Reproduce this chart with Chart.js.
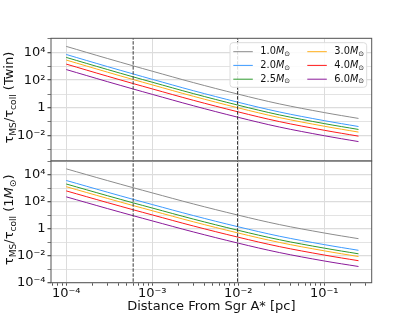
<!DOCTYPE html>
<html><head><meta charset="utf-8">
<script src="https://cdn.jsdelivr.net/npm/chart.js@4.4.0/dist/chart.umd.min.js"></script>
<style>
html,body{margin:0;padding:0;background:#fff;}
#wrap{position:relative;width:413px;height:319px;background:#fff;}
canvas{position:absolute;left:0;top:0;}
</style></head><body>
<div id="wrap"><canvas id="cTop" width="413" height="319"></canvas><canvas id="cBot" width="413" height="319"></canvas></div>
<script>
// ---- data ----
const distances = [1e-4, 3e-4, 6e-4, 1e-3, 3e-3, 1e-2, 3e-2, 0.1, 0.25];
const massLabels = ['1.0', '2.0', '2.5', '3.0', '4.0', '6.0'];
const colors = ['#8c8c8c', '#3d9bff', '#2e9a2e', '#ffae1a', '#ff1a1a', '#8b1a9a'];

// top panel: tau_MS / tau_coll (Twin)
const twin10 = [26300, 3597, 1059, 438.5, 67.0, 9.86, 1.995, 0.474, 0.180];
const twin20 = [6918, 946, 279, 115, 17.6, 2.59, 0.525, 0.125, 0.0474];
const twin25 = [4266, 583, 172, 71.1, 10.9, 1.60, 0.324, 0.0769, 0.0292];
const twin30 = [2754, 377, 111, 45.9, 7.01, 1.03, 0.209, 0.0497, 0.0189];
const twin40 = [1413, 193, 56.9, 23.6, 3.60, 0.530, 0.107, 0.0255, 0.00968];
const twin60 = [575, 78.7, 23.2, 9.59, 1.47, 0.216, 0.0437, 0.0104, 0.00394];

// bottom panel: tau_MS / tau_coll (1 Msun)
const one10 = [26300, 3597, 1059, 438.5, 67.0, 9.86, 1.995, 0.474, 0.180];
const one20 = [3631, 497, 146, 60.5, 9.25, 1.36, 0.275, 0.0655, 0.0249];
const one25 = [1995, 273, 80.4, 33.3, 5.08, 0.748, 0.151, 0.0360, 0.0137];
const one30 = [1259, 172, 50.7, 21.0, 3.21, 0.472, 0.0955, 0.0227, 0.00863];
const one40 = [617, 84.3, 24.8, 10.3, 1.57, 0.231, 0.0468, 0.0111, 0.00423];
const one60 = [224, 30.6, 9.02, 3.73, 0.570, 0.0839, 0.0170, 0.00404, 0.00158];

const dashedX = [6e-4, 0.0098];
const xMajorTicks = [1e-4, 1e-3, 1e-2, 1e-1];
const yDecadeTicks = [1e-4, 1e-3, 1e-2, 1e-1, 1, 1e1, 1e2, 1e3, 1e4, 1e5];
const xLimits = [6.65e-5, 0.356];
const yLimitsTop = [1.6e-4, 1e5];
const yLimitsBot = [1e-4, 1e5];
const xTitle = 'Distance From Sgr A* [pc]';

// ---- helpers ----
const FONT = 'DejaVu Sans';
const AX = 13;      // axis text size
const LG = 9.8;     // legend text size
const SUP = {'-':'⁻','0':'⁰','1':'¹','2':'²','3':'³','4':'⁴','5':'⁵','6':'⁶','7':'⁷','8':'⁸','9':'⁹'};
function powLabel(e){ if (e === 0) return '1'; return '10' + String(e).split('').map(c=>SUP[c]).join(''); }

function xMinorTicks(){
  const t = [];
  for (let e = -5; e <= 0; e++) for (let m = 1; m <= 9; m++) {
    const v = m * Math.pow(10, e);
    if (v >= xLimits[0] && v <= xLimits[1]) t.push(v);
  }
  return t;
}

function drawRich(ctx, segs, x, y, rot){
  ctx.save();
  ctx.translate(x, y);
  ctx.rotate(rot);
  let w = 0;
  segs.forEach(s => { ctx.font = (s.it ? 'italic ' : '') + s.size + 'px "' + FONT + '"'; s.w = ctx.measureText(s.t).width; w += s.w; });
  let cx = -w / 2;
  ctx.fillStyle = '#111';
  ctx.textBaseline = 'middle';
  ctx.textAlign = 'left';
  segs.forEach(s => { ctx.font = (s.it ? 'italic ' : '') + s.size + 'px "' + FONT + '"'; ctx.fillText(s.t, cx, s.dy || 0); cx += s.w; });
  ctx.restore();
}

function makeDatasets(series){
  const ds = series.map((vals, i) => ({
    label: massLabels[i],
    data: distances.map((d, k) => ({x: d, y: vals[k]})),
    borderColor: colors[i],
    backgroundColor: colors[i],
    borderWidth: 1,
    pointRadius: 0,
    tension: 0.35,
    fill: false,
    order: 6 - i
  }));
  dashedX.forEach(xv => ds.push({
    label: 'dash',
    data: [{x: xv, y: 1e-8}, {x: xv, y: 1e8}],
    borderColor: '#3a3a3a',
    borderWidth: 1,
    borderDash: [3.5, 1.5],
    pointRadius: 0,
    order: -1
  }));
  return ds;
}

const framePlugin = {
  id: 'frame',
  afterDatasetsDraw(chart, args, opts){
    const {ctx, chartArea: a} = chart;
    ctx.save();
    ctx.strokeStyle = '#555';
    ctx.lineWidth = 1;
    ctx.strokeRect(a.left, a.top, a.right - a.left, a.bottom - a.top);
    ctx.restore();
    const cy = (a.top + a.bottom) / 2;
    drawRich(ctx, opts.title, 10, cy - 2, -Math.PI / 2);
    if (opts.legend) drawLegend(chart);
  }
};

function drawLegend(chart){
  const {ctx, chartArea: a} = chart;
  const bx = a.right - 141.7, by = a.top + 4.4, bw = 136.7, bh = 44.6, r = 3;
  ctx.save();
  ctx.beginPath();
  ctx.moveTo(bx + r, by);
  ctx.arcTo(bx + bw, by, bx + bw, by + bh, r);
  ctx.arcTo(bx + bw, by + bh, bx, by + bh, r);
  ctx.arcTo(bx, by + bh, bx, by, r);
  ctx.arcTo(bx, by, bx + bw, by, r);
  ctx.closePath();
  ctx.fillStyle = 'rgba(255,255,255,0.85)';
  ctx.fill();
  ctx.strokeStyle = '#dcdcdc';
  ctx.lineWidth = 1;
  ctx.stroke();
  const rows = [by + 9, by + 22.7, by + 36.5];
  const cols = [bx + 3.3, bx + 77.3];
  massLabels.forEach((lab, i) => {
    const col = Math.floor(i / 3), row = i % 3;
    const lx = cols[col], ly = rows[row];
    ctx.strokeStyle = colors[i];
    ctx.lineWidth = 1;
    ctx.beginPath(); ctx.moveTo(lx, ly); ctx.lineTo(lx + 19.5, ly); ctx.stroke();
    const segs = [{t: lab, size: LG}, {t: 'M', size: LG, it: true}, {t: '⊙', size: LG * 0.7, dy: 2.5}];
    let tx = lx + 27;
    ctx.fillStyle = '#111';
    ctx.textBaseline = 'middle';
    segs.forEach(s => {
      ctx.font = (s.it ? 'italic ' : '') + s.size + 'px "' + FONT + '"';
      ctx.fillText(s.t, tx, ly + (s.dy || 0));
      tx += ctx.measureText(s.t).width;
    });
  });
  ctx.restore();
}

function makeOptions(isTop){
  const yl = isTop ? yLimitsTop : yLimitsBot;
  const sub = AX * 0.7;
  return {
    responsive: false,
    animation: false,
    devicePixelRatio: 1,
    layout: {padding: isTop ? {left: 0, top: 38.3, right: 41.3, bottom: 158} : {left: 0, top: 161, right: 41.3, bottom: 0}},
    plugins: {
      legend: {display: false},
      tooltip: {enabled: false},
      frame: {
        legend: isTop,
        title: isTop
          ? [{t: 'τ', size: AX}, {t: 'MS', size: sub, dy: 3.3}, {t: '/τ', size: AX}, {t: 'coll', size: sub, dy: 3.3}, {t: ' (Twin)', size: AX}]
          : [{t: 'τ', size: AX}, {t: 'MS', size: sub, dy: 3.3}, {t: '/τ', size: AX}, {t: 'coll', size: sub, dy: 3.3}, {t: ' (1', size: AX}, {t: 'M', size: AX, it: true}, {t: '⊙', size: sub, dy: 3.3}, {t: ')', size: AX}]
      }
    },
    scales: {
      x: {
        type: 'logarithmic',
        min: xLimits[0], max: xLimits[1],
        afterBuildTicks: s => { s.ticks = xMinorTicks().map(v => ({value: v})); },
        afterFit: s => { s.height = isTop ? 0 : 36.3; },
        border: {display: false},
        grid: {
          color: c => (c.tick && xMajorTicks.some(m => Math.abs(m - c.tick.value) / m < 1e-6)) ? '#dcdcdc' : 'rgba(0,0,0,0)',
          lineWidth: 1,
          drawTicks: !isTop,
          tickLength: 3,
          tickColor: '#555'
        },
        ticks: {
          display: !isTop,
          autoSkip: false, maxRotation: 0, minRotation: 0,
          padding: 0,
          color: '#111',
          font: {family: FONT, size: AX},
          callback: v => xMajorTicks.some(m => Math.abs(m - v) / m < 1e-6) ? powLabel(Math.round(Math.log10(v))) : ''
        },
        title: {display: !isTop, text: xTitle, color: '#111', font: {family: FONT, size: AX}, padding: {top: 0, bottom: 5}}
      },
      y: {
        type: 'logarithmic',
        min: yl[0], max: yl[1],
        afterBuildTicks: s => { s.ticks = yDecadeTicks.filter(v => v >= s.min * 0.999 && v <= s.max * 1.001).map(v => ({value: v})); },
        afterFit: s => { s.width = 51; },
        border: {display: false},
        grid: {
          color: '#dcdcdc',
          lineWidth: c => (c.tick && Math.round(Math.log10(c.tick.value)) % 2 === 0) ? 1.3 : 0.8,
          drawTicks: true, tickLength: 3.5, tickColor: '#555'
        },
        ticks: {
          autoSkip: false, padding: 2,
          color: '#111',
          font: {family: FONT, size: AX},
          callback: v => { const e = Math.round(Math.log10(v)); return e % 2 === 0 ? powLabel(e) : ''; }
        }
      }
    }
  };
}

new Chart(document.getElementById('cTop'), {
  type: 'line',
  data: {datasets: makeDatasets([twin10, twin20, twin25, twin30, twin40, twin60])},
  options: makeOptions(true),
  plugins: [framePlugin]
});
new Chart(document.getElementById('cBot'), {
  type: 'line',
  data: {datasets: makeDatasets([one10, one20, one25, one30, one40, one60])},
  options: makeOptions(false),
  plugins: [framePlugin]
});
</script>
</body></html>
